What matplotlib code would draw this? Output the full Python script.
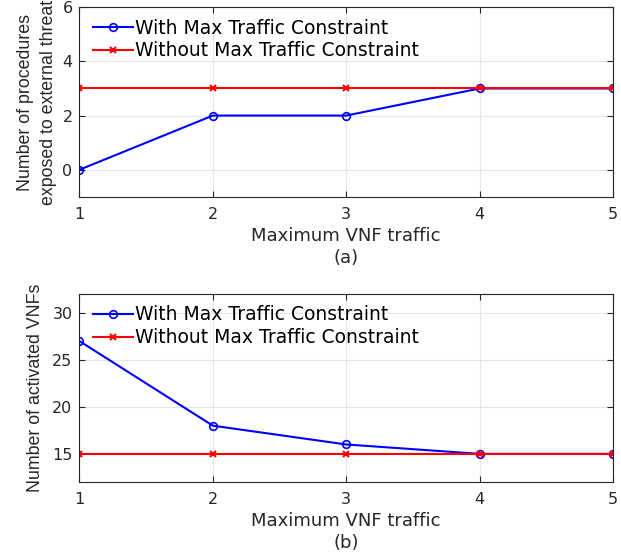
import matplotlib
matplotlib.use('Agg')
import matplotlib.pyplot as plt

traffic = [1, 2, 3, 4, 5]
threat_with = [0, 2, 2, 3, 3]
threat_without = [3, 3, 3, 3, 3]
vnf_with = [27, 18, 16, 15, 15]
vnf_without = [15, 15, 15, 15, 15]

plt.rcParams['font.family'] = ['DejaVu Sans']

fig = plt.figure(figsize=(6.21, 5.56), dpi=100)
ax1 = fig.add_axes([0.128, 0.646, 0.859, 0.341])
ax2 = fig.add_axes([0.128, 0.133, 0.859, 0.338])


def style(ax, ylim, yticks, ylabel, tag, ylpad):
    ax.set_xlim(1, 5)
    ax.set_ylim(*ylim)
    ax.set_xticks(traffic)
    ax.set_yticks(yticks)
    ax.grid(True, color='#e6e6e6', linewidth=0.8)
    ax.set_axisbelow(True)
    ax.tick_params(labelsize=11.5, colors='#262626', length=4, direction='in',
                   top=True, right=True)
    ax.tick_params(axis='x', pad=7)
    ax.tick_params(axis='y', pad=5)
    for s in ax.spines.values():
        s.set_color('#262626')
        s.set_linewidth(0.8)
    ax.set_xlabel('Maximum VNF traffic\n(' + tag + ')', fontsize=13,
                  color='#262626', linespacing=1.25, labelpad=4)
    ax.set_ylabel(ylabel, fontsize=12.8, color='#262626', linespacing=1.45,
                  family='Liberation Sans', labelpad=ylpad)
    ax.legend(loc='upper left', bbox_to_anchor=(0.026, 0.94), frameon=False,
              fontsize=13.5, handlelength=2.1, handletextpad=0.1,
              borderpad=0, borderaxespad=0, labelspacing=0.2)


ax1.plot(traffic, threat_with, color='#0000ff', marker='o', mfc='none',
         markersize=5.5, mew=1.2, linewidth=1.5, label='With Max Traffic Constraint')
ax1.plot(traffic, threat_without, color='#ff0000', marker='x', markersize=4.5,
         mew=1.5, linewidth=1.5, label='Without Max Traffic Constraint')
style(ax1, (-1, 6), [0, 2, 4, 6],
      'Number of procedures\nexposed to external threat', 'a', 4)

ax2.plot(traffic, vnf_with, color='#0000ff', marker='o', mfc='none',
         markersize=5.5, mew=1.2, linewidth=1.5, label='With Max Traffic Constraint')
ax2.plot(traffic, vnf_without, color='#ff0000', marker='x', markersize=4.5,
         mew=1.5, linewidth=1.5, label='Without Max Traffic Constraint')
style(ax2, (12, 32), [15, 20, 25, 30], 'Number of activated VNFs', 'b', 6)

fig.savefig('out.png', dpi=100)
